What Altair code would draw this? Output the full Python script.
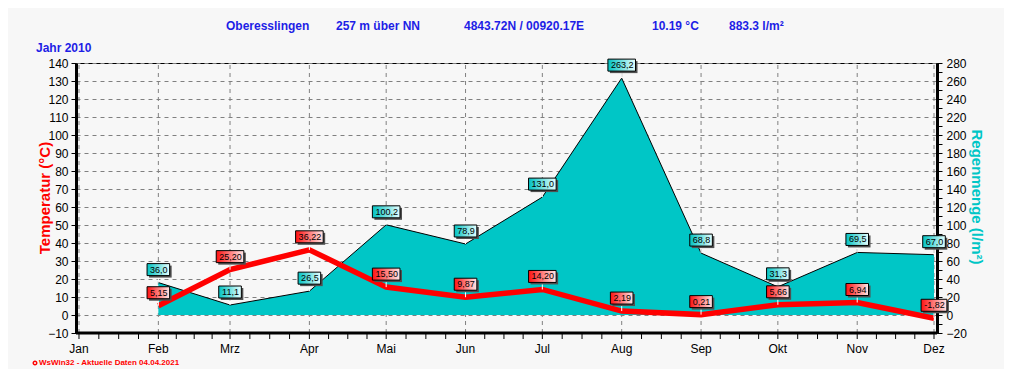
import calendar
import altair as alt
import pandas as pd

# ---------------- data ----------------
YEAR = 2010
MONTH_NAMES = ["Jan", "Feb", "Mrz", "Apr", "Mai", "Jun", "Jul", "Aug", "Sep", "Okt", "Nov", "Dez"]
POINT_MONTHS = ["Feb", "Mrz", "Apr", "Mai", "Jun", "Jul", "Aug", "Sep", "Okt", "Nov", "Dez"]
TEMPERATURE = [5.15, 25.20, 36.22, 15.50, 9.87, 14.20, 2.19, 0.21, 5.66, 6.94, -1.82]
RAIN = [36.0, 11.1, 26.5, 100.2, 78.9, 131.0, 263.2, 68.8, 31.3, 69.5, 67.0]
HEADER = ["Oberesslingen", "257 m über NN", "4843.72N / 00920.17E", "10.19 °C", "883.3 l/m²"]
YEAR_LABEL = "Jahr  2010"
LEFT_TITLE = "Temperatur  (°C)"
RIGHT_TITLE = "Regenmenge  (l/m²)"
FOOTER = "WsWin32  -  Aktuelle Daten  04.04.2021"
TEMP_TICKS = list(range(-10, 150, 10))
RAIN_TICKS = list(range(-20, 290, 10))
TEMP_MIN, TEMP_MAX = -10, 140
RAIN_MIN, RAIN_MAX = -20, 280

# ---------------- derived tables ----------------
month_start = []
acc = 0
for m in range(1, 13):
    month_start.append(acc)
    acc += calendar.monthrange(YEAR, m)[1]
start_of = dict(zip(MONTH_NAMES, month_start))
X_MIN, X_MAX = month_start[0] - 1.17, month_start[-1] + 1.17

all_ticks = []
for i in range(11):
    a, b = month_start[i], month_start[i + 1]
    for k in range(4):
        all_ticks.append(round(a + (b - a) * k / 4, 3))
all_ticks.append(month_start[-1])


def box_width(s):
    return sum(5.0 if c.isdigit() else (2.6 if c == "," else 3.2) for c in s) + 5


def box_path(w, h=12.0):
    r = h / w
    return f"M-1,{-r:.4f}L1,{-r:.4f}L1,{r:.4f}L-1,{r:.4f}Z"


temp_lbl = [f"{v:.2f}".replace(".", ",") for v in TEMPERATURE]
rain_lbl = [f"{v:.1f}".replace(".", ",") for v in RAIN]

df = pd.DataFrame({
    "month": POINT_MONTHS,
    "day": [start_of[m] for m in POINT_MONTHS],
    "temp": TEMPERATURE,
    "rain": RAIN,
    "temp_lbl": temp_lbl,
    "rain_lbl": rain_lbl,
    "temp_box": [box_path(box_width(s)) for s in temp_lbl],
    "rain_box": [box_path(box_width(s)) for s in rain_lbl],
    "temp_size": [box_width(s) ** 2 for s in temp_lbl],
    "rain_size": [box_width(s) ** 2 for s in rain_lbl],
})
month_df = pd.DataFrame({"day": month_start, "name": MONTH_NAMES})
tick_df = pd.DataFrame({"day": all_ticks})
one = pd.DataFrame({"a": [0]})

FONT = "Liberation Sans"
BLUE = "#1E1EE6"
RED = "#FF0000"
TEAL = "#00C6C6"

xscale = alt.Scale(domain=[X_MIN, X_MAX], nice=False, zero=False)
tscale = alt.Scale(domain=[TEMP_MIN, TEMP_MAX], nice=False, zero=False)
rscale = alt.Scale(domain=[RAIN_MIN, RAIN_MAX], nice=False, zero=False)

left_axis = alt.Axis(
    orient="left", values=TEMP_TICKS, grid=True, gridDash=[4, 4], gridColor="#808080",
    gridWidth=1, domainWidth=3, domainColor="black", tickColor="black", tickSize=5,
    labelFontSize=12, labelColor="black", labelPadding=3, title=None,
    labelOverlap=False, labelFont=FONT,
)
right_axis = alt.Axis(
    orient="right", values=RAIN_TICKS, grid=False,
    labelExpr="datum.value % 20 == 0 ? datum.label : ''",
    domainWidth=3, domainColor="black", tickColor="black", tickSize=5,
    labelFontSize=12, labelColor="black", labelPadding=4, title=None,
    labelOverlap=False, labelFont=FONT,
)

X = alt.X("day:Q", scale=xscale, axis=None)
YB = alt.Y(datum=TEMP_MIN, scale=tscale, axis=None)

# vertical month grid
vgrid = alt.Chart(month_df).mark_rule(color="#808080", strokeDash=[4, 4], strokeWidth=1).encode(
    x=X, y=YB, y2=alt.Y2(datum=TEMP_MAX),
)

# time axis: line, ticks, month labels
x_line = alt.Chart(one).mark_rule(color="black", strokeWidth=3).encode(
    x=alt.X(datum=X_MIN, scale=xscale, axis=None), x2=alt.X2(datum=X_MAX), y=YB,
)
x_ticks = alt.Chart(tick_df).mark_rule(color="black", strokeWidth=1, yOffset=1, y2Offset=6).encode(
    x=X, y=YB, y2=alt.Y2(datum=TEMP_MIN),
)
x_labels = alt.Chart(month_df).mark_text(
    font=FONT, fontSize=12, color="black", align="center", baseline="middle", yOffset=16
).encode(x=X, y=YB, text="name:N")

# rain area (right axis)
area = alt.Chart(df).mark_area(
    color=TEAL, opacity=1, line=alt.OverlayMarkDef(color="black", strokeWidth=1)
).encode(
    x=X,
    y=alt.Y("rain:Q", scale=rscale, axis=right_axis, stack=None),
    y2=alt.Y2(datum=0),
)

# temperature line (left axis)
line = alt.Chart(df).mark_line(color=RED, strokeWidth=5.5).encode(
    x=X,
    y=alt.Y("temp:Q", scale=tscale, axis=left_axis),
)


def label_layers(field, lbl, box, size, scale, c0, c1):
    grad = alt.Gradient(
        gradient="linear",
        stops=[alt.GradientStop(color=c0, offset=0), alt.GradientStop(color=c1, offset=1)],
        x1=0, x2=1, y1=0, y2=0,
    )
    Y = alt.Y(f"{field}:Q", scale=scale, axis=None)
    base = alt.Chart(df)
    conn = base.mark_rule(color="white", strokeWidth=1, y2Offset=-7).encode(
        x=X, y=Y, y2=alt.Y2(f"{field}:Q"))
    shadow = base.mark_point(filled=True, fill="#505050", opacity=1, strokeWidth=0,
                             xOffset=2, yOffset=-11).encode(
        x=X, y=Y,
        shape=alt.Shape(f"{box}:N", scale=None, legend=None),
        size=alt.Size(f"{size}:Q", scale=None, legend=None))
    boxm = base.mark_point(filled=True, fill=grad, stroke="black", strokeWidth=1, opacity=1,
                           yOffset=-13).encode(
        x=X, y=Y,
        shape=alt.Shape(f"{box}:N", scale=None, legend=None),
        size=alt.Size(f"{size}:Q", scale=None, legend=None))
    text = base.mark_text(font=FONT, fontSize=9, color="black", align="center",
                          baseline="middle", yOffset=-13, dx=0.5).encode(
        x=X, y=Y, text=f"{lbl}:N")
    return [conn, shadow, boxm, text]


rain_labels = label_layers("rain", "rain_lbl", "rain_box", "rain_size", rscale, "#00C2C2", "#E6FFFF")
temp_labels = label_layers("temp", "temp_lbl", "temp_box", "temp_size", tscale, "#FF1010", "#FFE8E8")

# texts outside plot area
texts = []
for s, xpos in zip(HEADER, [150, 260, 388, 576, 653]):
    texts.append(alt.Chart(one).mark_text(
        text=s, font=FONT, fontSize=12, fontWeight="bold", color=BLUE, align="left",
        baseline="middle").encode(x=alt.value(xpos), y=alt.value(-37)))
texts.append(alt.Chart(one).mark_text(
    text=YEAR_LABEL, font=FONT, fontSize=12, fontWeight="bold", color=BLUE, align="left",
    baseline="middle").encode(x=alt.value(-40), y=alt.value(-15)))
texts.append(alt.Chart(one).mark_text(
    text=LEFT_TITLE, font=FONT, fontSize=15, fontWeight="bold", color=RED, align="center",
    baseline="middle", angle=270).encode(x=alt.value(-31), y=alt.value(135)))
texts.append(alt.Chart(one).mark_text(
    text=RIGHT_TITLE, font=FONT, fontSize=15, fontWeight="bold", color=TEAL, align="center",
    baseline="middle", angle=90).encode(x=alt.value(901), y=alt.value(134)))
texts.append(alt.Chart(one).mark_text(
    text=FOOTER, font=FONT, fontSize=8, fontWeight="bold", color=RED, align="left",
    baseline="middle").encode(x=alt.value(-37), y=alt.value(300)))
texts.append(alt.Chart(one).mark_point(
    shape="circle", size=12, color=RED, strokeWidth=1.5, opacity=1).encode(
    x=alt.value(-41), y=alt.value(300)))

chart = alt.layer(
    vgrid, area, line, x_line, x_ticks, x_labels, *rain_labels, *temp_labels, *texts
).resolve_scale(y="independent").properties(
    width=861, height=270,
    padding={"left": 68, "top": 55, "right": 67, "bottom": 36},
    autosize=alt.AutoSizeParams(type="none"),
    background="#F7F7F7",
).configure_view(stroke="black", strokeWidth=1, fill="#F7F7F7")

chart.save("out.html", embed_options={"renderer": "svg", "actions": False})
